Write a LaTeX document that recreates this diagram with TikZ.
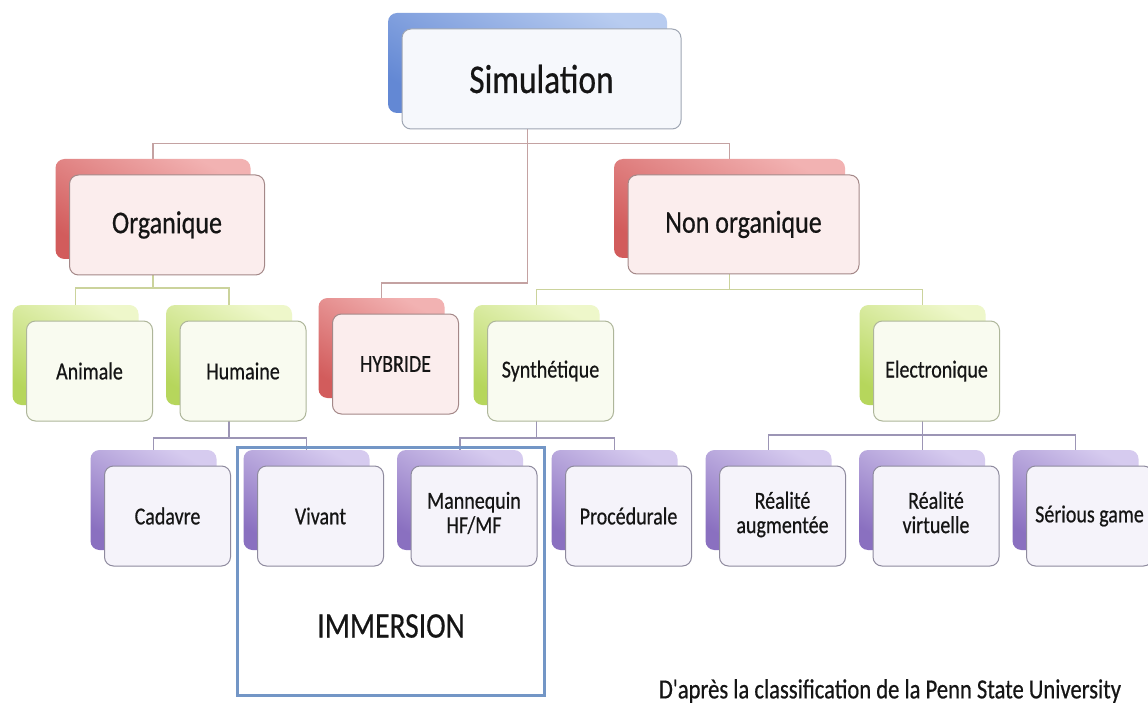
\documentclass[tikz,border=0pt]{standalone}
\usepackage{fontspec}
\setmainfont{Carlito}[FakeBold=0.6]
\usetikzlibrary{calc}
\pgfdeclarelayer{bg}
\pgfsetlayers{bg,main}
\definecolor{bluL}{HTML}{B8CCF0}
\definecolor{bluD}{HTML}{6388D4}
\definecolor{bluF}{HTML}{F6F8FC}
\definecolor{bluE}{HTML}{9FA6B3}
\definecolor{redL}{HTML}{F2B2B2}
\definecolor{redD}{HTML}{D25C5C}
\definecolor{redF}{HTML}{FBEDED}
\definecolor{redE}{HTML}{A48888}
\definecolor{grnL}{HTML}{EEF7CA}
\definecolor{grnD}{HTML}{B6D65C}
\definecolor{grnF}{HTML}{F9FBF0}
\definecolor{grnE}{HTML}{AEB69A}
\definecolor{purL}{HTML}{D6CBEF}
\definecolor{purD}{HTML}{8A70C0}
\definecolor{purF}{HTML}{F5F3FA}
\definecolor{purE}{HTML}{8E8A9E}
\definecolor{lineR}{HTML}{C4A2A2}
\definecolor{lineG}{HTML}{CBD39C}
\definecolor{lineP}{HTML}{9C95B5}
\definecolor{immC}{HTML}{7396C6}
\definecolor{txtC}{HTML}{151515}
\newcommand\vs[1]{\scalebox{1}[1.22]{#1}}
% #1 name, #2 colour set, #3 x, #4 y, #5 width, #6 height, #7 font style, #8 text
\newcommand\mkpair[8]{%
  \node[backbox, top color=#2L, bottom color=#2D, shading angle=-30,
        minimum width=#5, minimum height=#6] (#1B) at (#3,#4) {};
  \node[frontbox, fill=#2F, draw=#2E, minimum width=#5, minimum height=#6, #7]
        (#1) at ($(#1B)+(14,16)$) {\vs{#8}};
}
\begin{document}
\begin{tikzpicture}[x=1pt,y=-1pt,
  backbox/.style={rectangle, rounded corners=9pt, draw=none, inner sep=0pt},
  frontbox/.style={rectangle, rounded corners=9pt, line width=1pt, inner sep=0pt, text=txtC},
  fA/.style={font=\fontsize{33.4}{40}\selectfont},
  fB/.style={font=\fontsize{26}{30}\selectfont},
  fC/.style={font=\fontsize{20}{20}\selectfont},
  fD/.style={font=\fontsize{29.5}{34}\selectfont, text=txtC},
  fE/.style={font=\fontsize{22.6}{26}\selectfont, text=txtC},
  lnR/.style={draw=lineR, line width=1.4pt},
  lnG/.style={draw=lineG, line width=1.4pt},
  lnP/.style={draw=lineP, line width=1.4pt},
  immbox/.style={draw=immC, line width=3pt, inner sep=0pt}]
\useasboundingbox (0,0) rectangle (1148,711);

\mkpair{sim}{blu}{527.5}{63}{279}{100}{fA}{Simulation}
\mkpair{org}{red}{153}{209}{195}{100}{fB}{Organique}
\mkpair{non}{red}{729.5}{208.5}{231}{99}{fB}{Non organique}
\mkpair{ani}{grn}{75.5}{355}{126}{100}{fC}{Animale}
\mkpair{hum}{grn}{229}{355}{126}{100}{fC}{Humaine}
\mkpair{hyb}{red}{381.5}{348}{126}{100}{fC}{HYBRIDE}
\mkpair{syn}{grn}{536.5}{355}{126}{100}{fC}{Synthétique}
\mkpair{ele}{grn}{922.5}{355}{126}{100}{fC}{Electronique}
\mkpair{cad}{pur}{153.5}{500}{126}{100}{fC}{Cadavre}
\mkpair{viv}{pur}{306.5}{500}{126}{100}{fC}{Vivant}
\mkpair{man}{pur}{460}{500}{126}{100}{fC}{\begin{tabular}{@{}c@{}}Mannequin\\HF/MF\end{tabular}}
\mkpair{pro}{pur}{614.5}{500}{126}{100}{fC}{Procédurale}
\mkpair{ra}{pur}{768.5}{500}{126}{100}{fC}{\begin{tabular}{@{}c@{}}Réalité\\augmentée\end{tabular}}
\mkpair{rv}{pur}{922}{500}{126}{100}{fC}{\begin{tabular}{@{}c@{}}Réalité\\virtuelle\end{tabular}}
\mkpair{sg}{pur}{1075.5}{500}{126}{100}{fC}{Sérious game}

\node[immbox, minimum width=307, minimum height=248] (imm) at (390.5,571) {};
\node[fD] (immt) at (391,626) {\vs{IMMERSION}};
\node[fE] (src) at (890,691) {\vs{D\textquotesingle après la classification de la Penn State University}};

\begin{pgfonlayer}{bg}
\fill[white] (0,0) rectangle (1148,711);
\coordinate (b1) at (0,143.5);
\coordinate (bh) at (0,283);
\coordinate (b2) at (0,288);
\coordinate (b3) at (0,289.5);
\coordinate (b4) at (0,438);
\coordinate (b6) at (0,435);
\draw[lnR] (simB.south) -- (simB.south |- b1) -| (orgB.north);
\draw[lnR] (simB.south |- b1) -| (nonB.north);
\draw[lnR] (simB.south) -- (simB.south |- bh) -| (hybB.north);
\draw[lnG] (orgB.south) -- (orgB.south |- b2) -| (aniB.north);
\draw[lnG] (orgB.south |- b2) -| (humB.north);
\draw[lnG] (nonB.south) -- (nonB.south |- b3) -| (synB.north);
\draw[lnG] (nonB.south |- b3) -| (eleB.north);
\draw[lnP] (humB.south) -- (humB.south |- b4) -| (cadB.north);
\draw[lnP] (humB.south |- b4) -| (vivB.north);
\draw[lnP] (synB.south) -- (synB.south |- b4) -| (manB.north);
\draw[lnP] (synB.south |- b4) -| (proB.north);
\draw[lnP] (eleB.south) -- (eleB.south |- b6) -| (raB.north);
\draw[lnP] (eleB.south |- b6) -| (sgB.north);
\draw[lnP] (eleB.south |- b6) -- (eleB.south |- rvB.north);
\end{pgfonlayer}
\end{tikzpicture}
\end{document}
